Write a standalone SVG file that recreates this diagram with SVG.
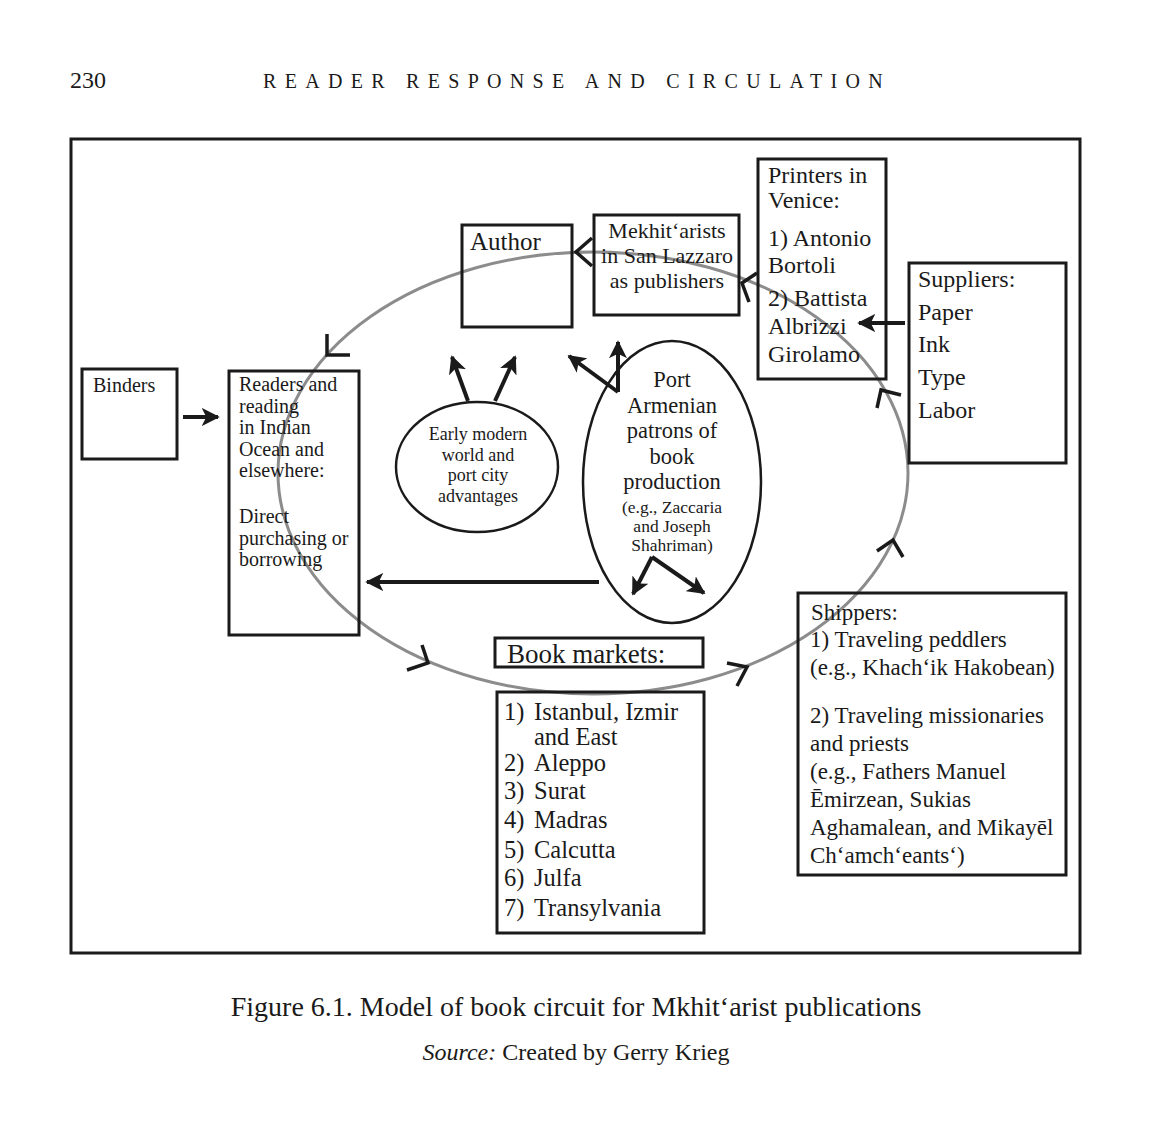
<svg xmlns="http://www.w3.org/2000/svg" width="1158" height="1125" viewBox="0 0 1158 1125">
<style>
text{font-family:"Liberation Serif","DejaVu Serif",serif;fill:#1a1a1a}
.box{fill:none;stroke:#1a1a1a;stroke-width:3}
.ell{fill:none;stroke:#1a1a1a;stroke-width:2.5}
.arr{stroke:#1a1a1a;stroke-width:4;fill:none}
.chev{stroke:#1a1a1a;stroke-width:3.5;fill:none}
.mid{text-anchor:middle}
</style>
<defs>
<marker id="ah" viewBox="0 0 10 10" refX="9" refY="5" markerWidth="4.5" markerHeight="4.5" orient="auto" markerUnits="strokeWidth">
<path d="M0,0 L10,5 L0,10 L2.5,5 z" fill="#1a1a1a"/>
</marker>
</defs>
<rect width="1158" height="1125" fill="#fff"/>
<g id="header">
<text x="70" y="88" style="font-size:24px">230</text>
<text x="263" y="88" style="font-size:20px;letter-spacing:8.3px">READER RESPONSE AND CIRCULATION</text>
</g>
<rect id="frame" x="71" y="139" width="1009" height="814" class="box"/>
<g id="cycle">
<ellipse cx="593" cy="473" rx="315" ry="221" fill="none" stroke="#8c8c8c" stroke-width="3"/>
<polyline class="chev" points="592,238 576,252 592,266"/>
<polyline class="chev" points="757,273 742,283 749,302"/>
<polyline class="chev" points="327,334 327,355 350,355"/>
<polyline class="chev" points="877,408 881,390 901,395"/>
<polyline class="chev" points="877,551 893,540 903,557"/>
<polyline class="chev" points="422,645 428,663 407,670"/>
<polyline class="chev" points="727,663 747,667 737,686"/>
</g>
<g id="author"><rect x="462" y="225" width="110" height="102" class="box"/><text x="470" y="250" style="font-size:25px">Author</text></g>
<g id="mekhitarists"><rect x="594" y="215" width="145" height="100" class="box"/>
<text class="mid" style="font-size:22px"><tspan x="667" y="238">Mekhitʻarists</tspan><tspan x="667" y="263">in San Lazzaro</tspan><tspan x="667" y="288">as publishers</tspan></text></g>
<g id="printers"><rect x="758" y="159" width="128" height="220" class="box"/>
<text style="font-size:24px"><tspan x="768" y="183">Printers in</tspan><tspan x="768" y="208">Venice:</tspan><tspan x="768" y="246">1) Antonio</tspan><tspan x="768" y="273">Bortoli</tspan><tspan x="768" y="306">2) Battista</tspan><tspan x="768" y="334">Albrizzi</tspan><tspan x="768" y="362">Girolamo</tspan></text></g>
<g id="suppliers"><rect x="909" y="263" width="157" height="200" class="box"/>
<text style="font-size:24px"><tspan x="918" y="287">Suppliers:</tspan><tspan x="918" y="320">Paper</tspan><tspan x="918" y="352">Ink</tspan><tspan x="918" y="385">Type</tspan><tspan x="918" y="418">Labor</tspan></text></g>
<g id="binders"><rect x="82" y="369" width="95" height="90" class="box"/><text x="93" y="392" style="font-size:20px">Binders</text></g>
<g id="readers"><rect x="229" y="371" width="130" height="264" class="box"/>
<text style="font-size:20px"><tspan x="239" y="391">Readers and</tspan><tspan x="239" y="413">reading</tspan><tspan x="239" y="434">in Indian</tspan><tspan x="239" y="456">Ocean and</tspan><tspan x="239" y="477">elsewhere:</tspan><tspan x="239" y="523">Direct</tspan><tspan x="239" y="545">purchasing or</tspan><tspan x="239" y="566">borrowing</tspan></text></g>
<g id="early-modern"><ellipse cx="477" cy="467" rx="81" ry="65" class="ell"/>
<text class="mid" style="font-size:18px"><tspan x="478" y="440">Early modern</tspan><tspan x="478" y="460.5">world and</tspan><tspan x="478" y="481">port city</tspan><tspan x="478" y="501.5">advantages</tspan></text></g>
<g id="port-armenian"><ellipse cx="672" cy="482" rx="89" ry="141" class="ell"/>
<text class="mid" style="font-size:22.5px"><tspan x="672" y="387">Port</tspan><tspan x="672" y="412.5">Armenian</tspan><tspan x="672" y="438">patrons of</tspan><tspan x="672" y="463.5">book</tspan><tspan x="672" y="489">production</tspan></text>
<text class="mid" style="font-size:17.5px"><tspan x="672" y="513">(e.g., Zaccaria</tspan><tspan x="672" y="532">and Joseph</tspan><tspan x="672" y="551">Shahriman)</tspan></text></g>
<g id="book-markets-title"><rect x="495" y="638" width="208" height="29" class="box"/><text x="507" y="663" style="font-size:27px">Book markets:</text></g>
<g id="book-markets-list"><rect x="497" y="692" width="207" height="241" class="box"/>
<text style="font-size:24.5px"><tspan x="504" y="720">1)</tspan><tspan x="504" y="771">2)</tspan><tspan x="504" y="799">3)</tspan><tspan x="504" y="828">4)</tspan><tspan x="504" y="858">5)</tspan><tspan x="504" y="886">6)</tspan><tspan x="504" y="916">7)</tspan></text>
<text style="font-size:24.5px"><tspan x="534" y="720">Istanbul, Izmir</tspan><tspan x="534" y="745">and East</tspan><tspan x="534" y="771">Aleppo</tspan><tspan x="534" y="799">Surat</tspan><tspan x="534" y="828">Madras</tspan><tspan x="534" y="858">Calcutta</tspan><tspan x="534" y="886">Julfa</tspan><tspan x="534" y="916">Transylvania</tspan></text></g>
<g id="shippers"><rect x="798" y="593" width="268" height="282" class="box"/>
<text style="font-size:23px"><tspan x="811" y="620">Shippers:</tspan><tspan x="810" y="647">1) Traveling peddlers</tspan><tspan x="810" y="675">(e.g., Khachʻik Hakobean)</tspan><tspan x="810" y="723">2) Traveling missionaries</tspan><tspan x="810" y="751">and priests</tspan><tspan x="810" y="779">(e.g., Fathers Manuel</tspan><tspan x="810" y="807">Ēmirzean, Sukias</tspan><tspan x="810" y="835">Aghamalean, and Mikayēl</tspan><tspan x="810" y="863">Chʻamchʻeantsʻ)</tspan></text></g>
<g id="connectors">
<line x1="183" y1="417" x2="218" y2="417" class="arr" marker-end="url(#ah)"/>
<line x1="905" y1="323" x2="859" y2="323" class="arr" marker-end="url(#ah)"/>
<line x1="599" y1="582" x2="367" y2="582" class="arr" marker-end="url(#ah)"/>
<line x1="468" y1="401" x2="452" y2="357" class="arr" marker-end="url(#ah)"/>
<line x1="495" y1="401" x2="515" y2="357" class="arr" marker-end="url(#ah)"/>
<line x1="618" y1="392" x2="618" y2="342" class="arr" marker-end="url(#ah)"/>
<line x1="618" y1="392" x2="569" y2="356" class="arr" marker-end="url(#ah)"/>
<line x1="652" y1="557" x2="633" y2="594" class="arr" marker-end="url(#ah)"/>
<line x1="652" y1="557" x2="704" y2="593" class="arr" marker-end="url(#ah)"/>
</g>
<g id="caption">
<text x="576" y="1016" class="mid" style="font-size:28px">Figure 6.1. Model of book circuit for Mkhitʻarist publications</text>
<text x="576" y="1060" class="mid" style="font-size:24px"><tspan font-style="italic">Source:</tspan> Created by Gerry Krieg</text>
</g>
</svg>
